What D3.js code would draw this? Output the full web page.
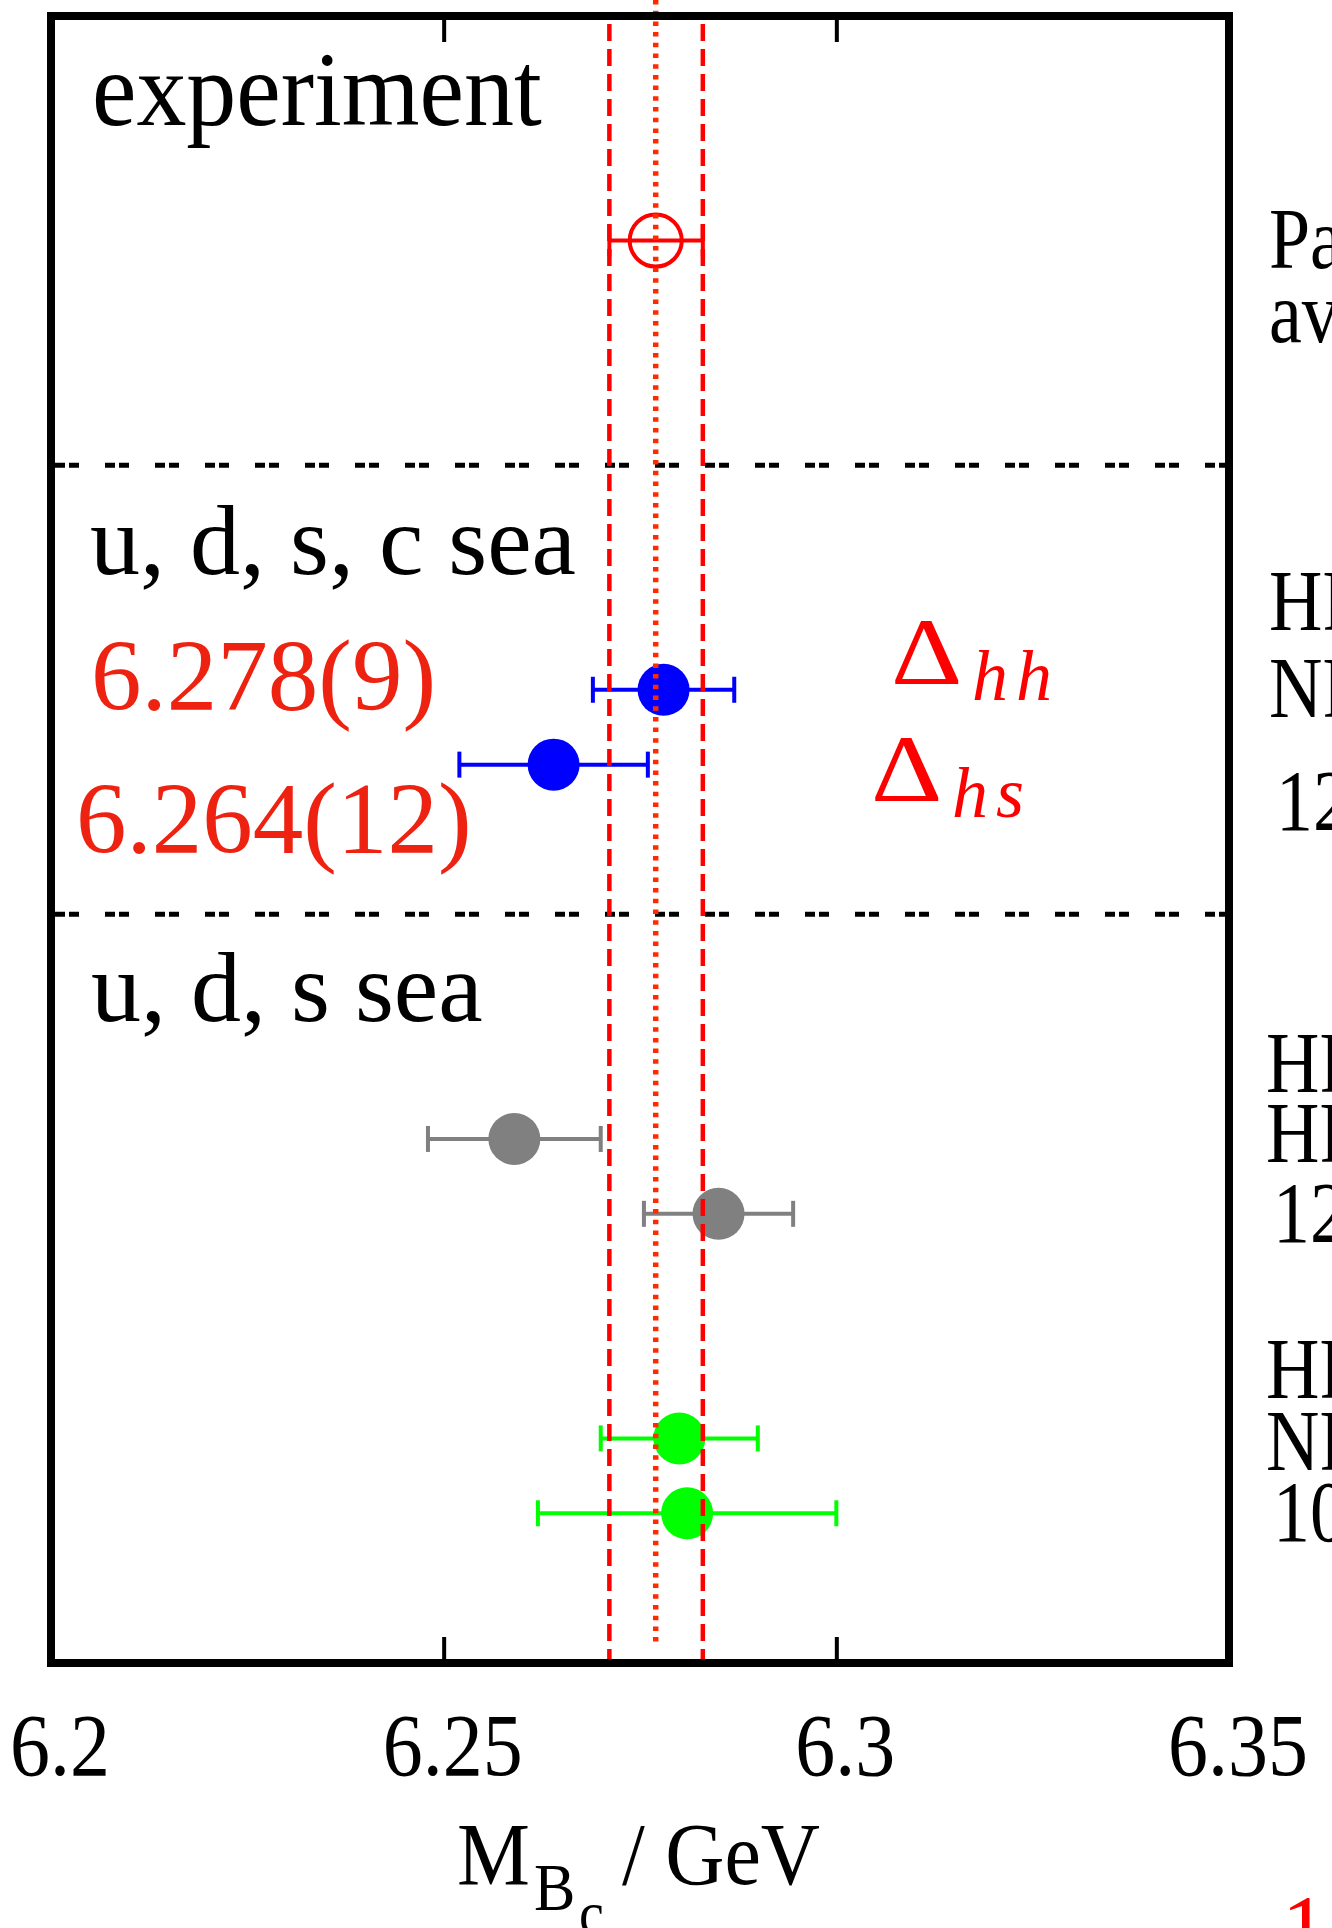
<!DOCTYPE html>
<html>
<head>
<meta charset="utf-8">
<script src="https://cdn.jsdelivr.net/npm/d3@7"></script>
<style>
  body { margin: 0; background: #fff; }
  svg { display: block; }
  text { font-family: "Liberation Serif", "Times New Roman", serif; }
</style>
</head>
<body>
<div id="chart"></div>
<script>
// mass axis
var xTicks = [6.2, 6.25, 6.3, 6.35];
var xTickLabels = ["6.2", "6.25", "6.3", "6.35"];

// one row per result, y in row units (0 = top of frame, 22 = bottom)
var rowPos = [3, 9, 10, 15, 16, 19, 20];
var mass = [6.2770, 6.2780, 6.2640, 6.2590, 6.2850, 6.2800, 6.2810];
var errLo = [6.2711, 6.2690, 6.2520, 6.2480, 6.2755, 6.2700, 6.2620];
var errHi = [6.2830, 6.2870, 6.2760, 6.2700, 6.2945, 6.2900, 6.3000];
var rowColor = ["#ff0000", "#0000ff", "#0000ff", "#808080", "#808080", "#00ff00", "#00ff00"];
var rowOpen = [true, false, false, false, false, false, false];

// experimental average band (low, central, high)
var expBand = [6.2711, 6.2770, 6.2830];

// section separators and section titles
var sepPos = [6, 12];
var groupNames = ["experiment", "u, d, s, c sea", "u, d, s sea"];
var groupPos = [1.45, 7.45, 13.43];

// results written in red
var resultText = ["6.278(9)", "6.264(12)"];
var resultPos = [9.27, 11.18];

// reference labels on the right (cut by the page edge)
var refLines = ["Particle Data Group", "average",
    "HPQCD,", "NRQCD-HISQ", "1207.5149",
    "HPQCD,", "HPQCD,", "1207.5149",
    "HPQCD,", "NRQCD-HISQ", "1010.3848"];
var refPos = [3.37, 4.35, 8.2, 9.36, 10.87, 14.37, 15.31, 16.38, 18.46, 19.42, 20.37];

var W = 1332, H = 1928;
var frame = { left: 51, right: 1229, top: 16, bottom: 1663 };

var svg = d3.select("#chart")
    .append("svg")
    .attr("width", W)
    .attr("height", H);

var x = d3.scaleLinear()
    .domain([6.2, 6.35])
    .range([frame.left, frame.right]);

var y = d3.scaleLinear()
    .domain([0, 22])
    .range([frame.top, frame.bottom]);

function label(g, str, px, py, size, fill, sx, sy) {
    return g.append("text")
        .attr("transform", "translate(" + px + "," + py + ") scale(" + (sx || 1) + "," + (sy || 1) + ")")
        .attr("font-size", size)
        .attr("fill", fill || "#000")
        .text(str);
}

// separators between sections
svg.selectAll(".sep")
    .data(sepPos)
    .enter().append("line")
    .attr("x1", frame.left + 4)
    .attr("x2", frame.right - 4)
    .attr("y1", d => y(d))
    .attr("y2", d => y(d))
    .attr("stroke", "#000")
    .attr("stroke-width", 5)
    .attr("stroke-dasharray", "10 4 10 26");

// error bars
var bars = svg.append("g");
rowPos.forEach(function (r, i) {
    var cap = rowOpen[i] ? 16 : 13;
    bars.append("line")
        .attr("x1", x(errLo[i])).attr("x2", x(errHi[i]))
        .attr("y1", y(r)).attr("y2", y(r))
        .attr("stroke", rowColor[i]).attr("stroke-width", 4);
    [errLo[i], errHi[i]].forEach(function (v) {
        bars.append("line")
            .attr("x1", x(v)).attr("x2", x(v))
            .attr("y1", y(r) - cap).attr("y2", y(r) + cap)
            .attr("stroke", rowColor[i]).attr("stroke-width", 4);
    });
});

// points
svg.append("g").selectAll("circle")
    .data(rowPos)
    .enter().append("circle")
    .attr("cx", (d, i) => x(mass[i]))
    .attr("cy", d => y(d))
    .attr("r", 26)
    .attr("fill", (d, i) => rowOpen[i] ? "none" : rowColor[i])
    .attr("stroke", (d, i) => rowOpen[i] ? rowColor[i] : "none")
    .attr("stroke-width", 4);

// experimental band lines
svg.append("line")
    .attr("x1", x(expBand[1])).attr("x2", x(expBand[1]))
    .attr("y1", 0).attr("y2", y(22) - 18)
    .attr("stroke", "#ff2a00").attr("stroke-width", 5.5)
    .attr("stroke-dasharray", "4.5 6.2");
[expBand[0], expBand[2]].forEach(function (v) {
    svg.append("line")
        .attr("x1", x(v)).attr("x2", x(v))
        .attr("y1", y(0) + 8).attr("y2", y(22) - 4)
        .attr("stroke", "#ff0000").attr("stroke-width", 4.5)
        .attr("stroke-dasharray", "17 8");
});

// frame
svg.append("rect")
    .attr("x", frame.left).attr("y", frame.top)
    .attr("width", frame.right - frame.left)
    .attr("height", frame.bottom - frame.top)
    .attr("fill", "none")
    .attr("stroke", "#000")
    .attr("stroke-width", 8);

// inward ticks, top and bottom
var inner = xTicks.slice(1, -1);
var bottomAxis = svg.append("g")
    .attr("transform", "translate(0," + (frame.bottom - 4) + ")")
    .call(d3.axisBottom(x).tickValues(inner).tickSize(-22).tickFormat(""));
var topAxis = svg.append("g")
    .attr("transform", "translate(0," + (frame.top + 4) + ")")
    .call(d3.axisTop(x).tickValues(inner).tickSize(-22).tickFormat(""));
[bottomAxis, topAxis].forEach(function (a) {
    a.select(".domain").remove();
    a.selectAll("line").attr("stroke", "#000").attr("stroke-width", 4);
});

// tick labels
xTicks.forEach(function (t, i) {
    label(svg, xTickLabels[i], x(t) + 9, 1775, 80, "#000", 1, 1.12)
        .attr("text-anchor", "middle");
});

// axis title
label(svg, "M", 457, 1884, 82, "#000", 1, 1.08);
label(svg, "B", 534, 1910, 62, "#000", 1, 1.08);
label(svg, "c", 579, 1934, 56, "#000", 1, 1.08);
label(svg, "/ GeV", 622, 1884, 82, "#000", 1, 1.08);

// section titles
label(svg, groupNames[0], 92, y(groupPos[0]), 100, "#000", 1, 1.06);
label(svg, groupNames[1], 90, y(groupPos[1]), 100);
label(svg, groupNames[2], 91, y(groupPos[2]), 100);

// red results
label(svg, resultText[0], 91, y(resultPos[0]), 101, "#ee2211");
label(svg, resultText[1], 76, y(resultPos[1]), 101, "#ee2211");

// Delta labels
function delta(px, py, sub, sx) {
    svg.append("text")
        .attr("transform", "translate(" + px + "," + py + ") scale(1.18,1.02)")
        .attr("font-family", "DejaVu Serif").attr("font-size", 94).attr("fill", "#ff0000")
        .text("\u0394");
    svg.append("text")
        .attr("x", sx).attr("y", py + 16)
        .attr("font-family", "Liberation Serif")
        .attr("font-size", 72).attr("font-style", "italic").attr("fill", "#ff0000")
        .attr("letter-spacing", 8)
        .text(sub);
}
delta(891, 684, "hh", 972);
delta(871, 801, "hs", 952);

// reference labels
refLines.forEach(function (s, i) {
    var isNum = /^\d/.test(s);
    var px = (i >= 5 ? 1266 : 1269) + (isNum ? 7 : 0);
    label(svg, s, px, y(refPos[i]), 86, "#000", 0.86, 1);
});

// stray red digit at the bottom
label(svg, "1", 1282, 1958, 90, "#ff0000");
</script>
</body>
</html>
